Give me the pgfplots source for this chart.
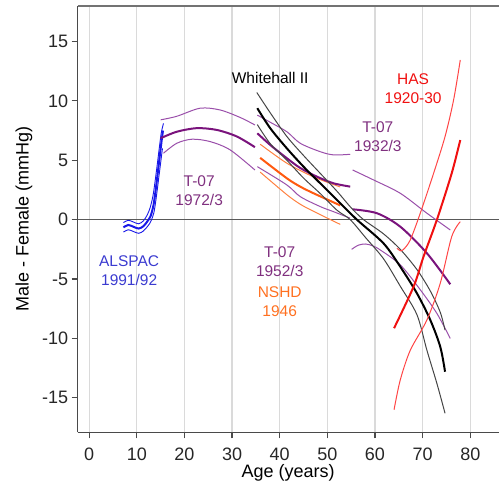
\documentclass[border=0pt]{standalone}
\usepackage{pgfplots}
\pgfplotsset{compat=1.18}
\usepackage{fontspec}
\setmainfont{Liberation Sans}

\definecolor{spine}{HTML}{4A4A4A}
\definecolor{gridc}{HTML}{DADADA}
\definecolor{alsp}{HTML}{1818E8}
\definecolor{alsplab}{HTML}{3B3BD0}
\definecolor{purk}{HTML}{7A137C}
\definecolor{purt}{HTML}{9A4FAA}
\definecolor{purlab}{HTML}{80307F}
\definecolor{orak}{HTML}{FF5A10}
\definecolor{orat}{HTML}{FF8040}
\definecolor{oralab}{HTML}{FF7020}
\definecolor{redk}{HTML}{F01010}
\definecolor{redt}{HTML}{FF4545}
\definecolor{grayt}{HTML}{454545}

\begin{document}
\begin{tikzpicture}
\begin{axis}[
	at={(77.7pt,49.7pt)}, anchor=south west,
	scale only axis,
	width=430.7pt, height=426.5pt,
	xmin=-2.4, xmax=88, ymin=-17.9, ymax=18.0,
	axis x line*=bottom, axis y line*=left,
	axis line style={draw=spine, line width=1.4pt},
	xtick={0,10,...,80}, ytick={-15,-10,...,15},
	tick align=outside, major tick length=6pt,
	tick style={draw=spine, line width=1.2pt},
	xmajorgrids, major grid style={draw=gridc, line width=1.2pt},
	ticklabel style={font=\fontsize{18}{20}\selectfont, text=black!85},
	xticklabel style={yshift=-6pt},
	/pgf/number format/assume math mode=true,
	xlabel={Age (years)}, ylabel={Male - Female (mmHg)},
	label style={font=\fontsize{18}{20}\selectfont},
	xlabel style={at={([yshift=-41pt]axis description cs:0.4888,0)}, anchor=center},
	ylabel style={at={([xshift=-53.7pt]axis description cs:0,0.5)}, anchor=center},
	clip=false,
]
% zero line
\addplot[black!65, line width=1.1pt] coordinates {(-2.4,0) (88,0)};

% ALSPAC 1991/92
\addplot[alsp, line width=0.9pt, smooth] coordinates {
	(7.2,-0.25) (8.2,-0.05) (9.3,-0.2) (10.4,-0.35) (11.4,-0.1) (12.2,0.4) (12.8,1.0) (13.4,2.0) (13.9,3.4) (14.5,5.3) (15.1,7.2) (15.6,8.1)
};
\addplot[alsp, line width=0.9pt, smooth] coordinates {
	(7.2,-1.05) (8.2,-0.85) (9.3,-1.0) (10.4,-1.15) (11.4,-0.95) (12.4,-0.5) (13.0,-0.1) (13.6,0.6) (14.1,1.9) (14.7,3.8) (15.2,5.4) (15.4,6.0)
};
\addplot[alsp, line width=2pt, smooth] coordinates {
	(7.2,-0.65) (8.2,-0.45) (9.3,-0.6) (10.4,-0.75) (11.4,-0.55) (12.3,-0.1) (12.9,0.3) (13.5,1.2) (14.0,2.6) (14.6,4.6) (15.2,6.6) (15.5,7.5)
};

% T-07 1972/3
\addplot[purt, line width=1pt, smooth] coordinates {
	(15.0,8.4) (18.4,8.7) (23.3,9.38) (27.5,9.23) (31.7,8.6) (34.8,7.97)
};
\addplot[purt, line width=1pt, smooth] coordinates {
	(15.6,5.59) (18.4,6.43) (21.6,6.77) (25.4,6.57) (29.6,5.87) (34.8,4.18)
};
\addplot[purk, line width=2pt, smooth] coordinates {
	(15.0,6.85) (18.4,7.4) (22.6,7.7) (26.8,7.55) (31.0,7.0) (34.8,6.1)
};

% NSHD 1946
\addplot[orat, line width=1pt, smooth] coordinates {
	(35.9,6.35) (41.5,4.75) (47.1,3.6) (52.7,2.75)
};
\addplot[orat, line width=1pt, smooth] coordinates {
	(35.9,4.0) (41.5,2.1) (44.3,1.3) (47.1,0.7) (52.7,-0.4)
};
\addplot[orak, line width=2pt, smooth] coordinates {
	(35.9,5.2) (41.5,3.48) (44.3,2.78) (47.1,2.22) (52.7,1.2)
};

% T-07 1952/3
\addplot[purt, line width=1pt, smooth] coordinates {
	(35.3,8.8) (38.0,8.2) (41.5,7.4) (44.3,6.43) (48.5,5.72) (51.3,5.45) (54.8,5.5)
};
\addplot[purt, line width=1pt, smooth] coordinates {
	(35.3,4.46) (41.5,2.92) (44.3,1.94) (48.5,1.1) (51.3,0.67) (54.8,0.12)
};
\addplot[purk, line width=2pt, smooth] coordinates {
	(35.3,7.27) (38.0,6.29) (41.5,5.17) (44.3,4.35) (47.8,3.62) (51.3,3.06) (54.8,2.78)
};

% T-07 1932/3
\addplot[purt, line width=1pt, smooth] coordinates {
	(55.3,4.18) (59.7,3.34) (65.3,2.22) (70.9,0.54) (75.8,-0.87)
};
\addplot[purt, line width=1pt, smooth] coordinates {
	(55.1,-2.5) (56.5,-2.15) (58.0,-2.05) (59.5,-2.2) (61.1,-2.55) (65.3,-3.8) (69.5,-5.9) (73.0,-7.9) (75.8,-10.0)
};
\addplot[purk, line width=2pt, smooth] coordinates {
	(55.3,0.87) (60.4,0.54) (65.3,-0.59) (70.9,-2.83) (75.8,-5.44)
};

% Whitehall II
\addplot[grayt, line width=1pt, smooth] coordinates {
	(35.2,10.7) (38.0,9.0) (41.5,7.0) (45.0,5.4) (48.5,3.9) (52.0,2.4) (55.0,1.0) (57.6,0) (61.8,-1.2) (65.3,-2.5) (68.8,-4.2) (71.6,-6.0) (73.7,-7.8) (74.7,-9.3)
};
\addplot[grayt, line width=1pt, smooth] coordinates {
	(35.3,8.0) (38.0,6.4) (41.5,5.0) (45.0,3.5) (48.5,2.2) (52.0,0.8) (54.8,0) (58.0,-1.5) (61.8,-3.3) (65.3,-5.6) (68.8,-8.0) (70.9,-11.0) (73.0,-13.8) (74.7,-16.3)
};
\addplot[black, line width=2pt, smooth] coordinates {
	(35.3,9.38) (38.0,7.7) (41.5,6.0) (45.0,4.46) (48.5,3.06) (52.0,1.66) (56.2,0) (61.8,-2.0) (65.3,-3.96) (68.8,-6.2) (71.6,-8.44) (73.7,-10.7) (74.7,-12.8)
};

% HAS 1920-30
\addplot[redt, line width=1pt, smooth] coordinates {
	(64.6,-2.4) (65.3,-2.62) (66.0,-2.5) (67.4,-1.71) (69.5,0.54) (72.3,3.9) (74.7,6.99) (76.5,10.08) (77.9,13.44)
};
\addplot[redt, line width=1pt, smooth] coordinates {
	(64.0,-16.0) (65.3,-13.5) (67.4,-11.0) (70.9,-8.44) (73.7,-5.35) (76.1,-1.43) (77.9,-0.17)
};
\addplot[redk, line width=2pt, smooth] coordinates {
	(64.0,-9.14) (68.1,-5.64) (70.2,-3.1) (73.0,0) (76.1,3.9) (77.9,6.7)
};

% labels
\begin{scope}[every node/.style={font=\fontsize{15.5}{17}\selectfont, align=center, inner sep=0pt}]
\node[black] at (axis cs:38,11.93) {Whitehall II};
\node[redk] at (axis cs:68.0,11.05) {HAS\\[2pt]1920-30};
\node[purlab] at (axis cs:60.6,6.95) {T-07\\[2pt]1932/3};
\node[purlab] at (axis cs:23.1,2.45) {T-07\\[2pt]1972/3};
\node[alsplab] at (axis cs:8.4,-4.28) {ALSPAC\\[2pt]1991/92};
\node[purlab] at (axis cs:40.0,-3.53) {T-07\\[2pt]1952/3};
\node[oralab] at (axis cs:40.0,-6.93) {NSHD\\[2pt]1946};
\end{scope}
\end{axis}
% top frame line
\draw[black!55, line width=2pt] (77.7pt,476pt) -- (510pt,476pt);
\pgfresetboundingbox
\useasboundingbox (0,0) rectangle (499pt,482pt);
\end{tikzpicture}
\end{document}
